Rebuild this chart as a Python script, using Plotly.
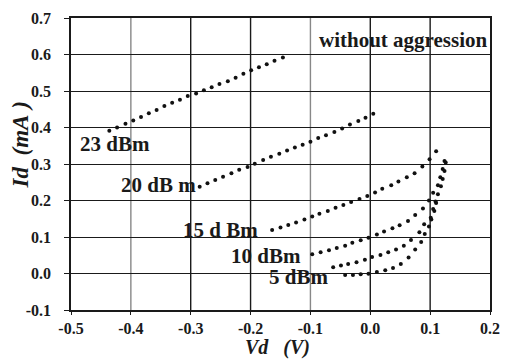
import plotly.graph_objects as go

# ---- data ----
x_tick_vals = [-0.5, -0.4, -0.3, -0.2, -0.1, 0.0, 0.1, 0.2]
x_tick_text = ["-0.5", "-0.4", "-0.3", "-0.2", "-0.1", "0.0", "0.1", "0.2"]
y_tick_vals = [-0.1, 0.0, 0.1, 0.2, 0.3, 0.4, 0.5, 0.6, 0.7]
y_tick_text = ["-0.1", "0.0", "0.1", "0.2", "0.3", "0.4", "0.5", "0.6", "0.7"]

V23 = [-0.436, -0.423, -0.409, -0.396, -0.383, -0.370, -0.357, -0.344, -0.331, -0.318, -0.305, -0.291,
       -0.278, -0.265, -0.252, -0.238, -0.225, -0.212, -0.199, -0.186, -0.173, -0.160, -0.146]
I23 = [0.391, 0.400, 0.410, 0.419, 0.429, 0.439, 0.448, 0.459, 0.468, 0.476, 0.486, 0.493,
       0.502, 0.510, 0.519, 0.527, 0.536, 0.547, 0.557, 0.565, 0.573, 0.583, 0.592]

V20 = [-0.285, -0.272, -0.259, -0.246, -0.232, -0.219, -0.205, -0.193, -0.179, -0.166, -0.152, -0.139,
       -0.126, -0.113, -0.100, -0.087, -0.074, -0.060, -0.047, -0.034, -0.020, -0.008, 0.005]
I20 = [0.238, 0.247, 0.256, 0.265, 0.275, 0.284, 0.292, 0.301, 0.311, 0.320, 0.328, 0.337,
       0.345, 0.353, 0.361, 0.371, 0.379, 0.388, 0.397, 0.408, 0.418, 0.427, 0.438]

V15 = [-0.164, -0.150, -0.137, -0.124, -0.110, -0.097, -0.085, -0.071, -0.058, -0.045, -0.032,
       -0.018, -0.005, 0.008, 0.020, 0.035, 0.047, 0.061, 0.074, 0.087, 0.099, 0.110]
I15 = [0.119, 0.126, 0.133, 0.140, 0.148, 0.156, 0.164, 0.171, 0.180, 0.188, 0.196,
       0.204, 0.212, 0.222, 0.232, 0.242, 0.252, 0.264, 0.275, 0.293, 0.313, 0.335]

V10 = [-0.097, -0.083, -0.069, -0.056, -0.042, -0.030, -0.016, -0.003, 0.011, 0.023, 0.037,
       0.049, 0.063, 0.075, 0.088, 0.098, 0.105, 0.113, 0.117, 0.121, 0.124]
I10 = [0.053, 0.058, 0.064, 0.070, 0.076, 0.084, 0.091, 0.098, 0.107, 0.115, 0.124,
       0.132, 0.144, 0.160, 0.178, 0.200, 0.221, 0.242, 0.264, 0.286, 0.308]

V5_low = [-0.042, -0.029, -0.016, -0.003, 0.011, 0.025, 0.038, 0.051, 0.064, 0.075, 0.085,
          0.091, 0.098, 0.102, 0.107, 0.110]
I5_low = [-0.004, -0.004, -0.002, -0.001, 0.004, 0.009, 0.015, 0.026, 0.044, 0.066, 0.086,
          0.108, 0.129, 0.148, 0.171, 0.193]
V5_up = [-0.062, -0.049, -0.037, -0.023, -0.009, 0.003, 0.017, 0.030, 0.043, 0.056, 0.068,
         0.082, 0.090, 0.101, 0.105, 0.109, 0.113, 0.118, 0.121, 0.124, 0.126]
I5_up = [0.017, 0.022, 0.026, 0.031, 0.038, 0.045, 0.051, 0.058, 0.066, 0.076, 0.092,
         0.113, 0.135, 0.153, 0.177, 0.197, 0.217, 0.239, 0.259, 0.281, 0.304]

series = [
    ("23 dBm", V23, I23),
    ("20 dBm", V20, I20),
    ("15 dBm", V15, I15),
    ("10 dBm", V10, I10),
    ("5 dBm", V5_low, I5_low),
    ("5 dBm ", V5_up, I5_up),
]

# curve labels: text, x (left edge), y (middle)
label_text = ["23 dBm", "20 dB m", "15 d Bm", "10 dBm", "5 dBm"]
label_x = [-0.488, -0.420, -0.317, -0.236, -0.173]
label_y = [0.355, 0.242, 0.120, 0.049, -0.0095]

FONT = "'Liberation Serif', 'Times New Roman', Times, serif"
INK = "#1a1a1a"

fig = go.Figure()
for name, xs, ys in series:
    fig.add_trace(go.Scatter(x=xs, y=ys, mode="markers", name=name,
                             marker=dict(size=4, color="#111111"),
                             showlegend=False))

for t, lx, ly in zip(label_text, label_x, label_y):
    fig.add_annotation(x=lx, y=ly, text="<b>" + t + "</b>", showarrow=False,
                       xanchor="left", yanchor="middle",
                       font=dict(family=FONT, size=21, color=INK))

fig.add_annotation(x=0.2, y=0.640, text="<b>without aggression</b>", showarrow=False,
                   xanchor="right", yanchor="middle",
                   font=dict(family=FONT, size=21, color=INK))

# axis titles
fig.add_annotation(xref="paper", yref="paper", x=0.494, y=-0.128,
                   text="<b><i>Vd\u00a0\u00a0\u00a0(V)</i></b>",
                   showarrow=False, xanchor="center", yanchor="middle", borderpad=0,
                   font=dict(family=FONT, size=20, color=INK))
fig.add_annotation(xref="paper", yref="paper", x=-0.12, y=0.566,
                   text="<b><i>Id\u00a0\u00a0(mA\u00a0)</i></b>",
                   showarrow=False, xanchor="center", yanchor="middle", textangle=-90,
                   font=dict(family=FONT, size=23, color=INK))

# vertical grid lines (two of them lighter grey as in the reference)
grid_colors = ["#888888", "#1a1a1a", "#1a1a1a", "#888888", "#1a1a1a", "#1a1a1a"]
for xv, c in zip(x_tick_vals[1:-1], grid_colors):
    fig.add_shape(type="line", xref="x", yref="paper", x0=xv, x1=xv, y0=0, y1=1,
                  line=dict(color=c, width=1.4), layer="below")

fig.update_xaxes(range=[-0.5, 0.2], tickvals=x_tick_vals, ticktext=["<b>" + s + "</b>" for s in x_tick_text],
                 showgrid=False, zeroline=False, showline=True, mirror=True,
                 linecolor=INK, linewidth=1.5, ticks="outside", ticklen=3,
                 tickcolor=INK, ticklabelstandoff=0,
                 tickfont=dict(family=FONT, size=16, color=INK))
fig.update_yaxes(range=[-0.1, 0.7], tickvals=y_tick_vals, ticktext=["<b>" + s + "</b>" for s in y_tick_text],
                 showgrid=True, gridcolor=INK, gridwidth=1.4, zeroline=False,
                 showline=True, mirror=True, linecolor=INK, linewidth=1.5,
                 ticks="outside", ticklen=5, tickcolor=INK, ticklabelstandoff=10,
                 tickfont=dict(family=FONT, size=16, color=INK))

fig.update_layout(width=510, height=360, margin=dict(l=71, r=10, t=10, b=50),
                  plot_bgcolor="white", paper_bgcolor="white")

fig.write_html("out.html")
